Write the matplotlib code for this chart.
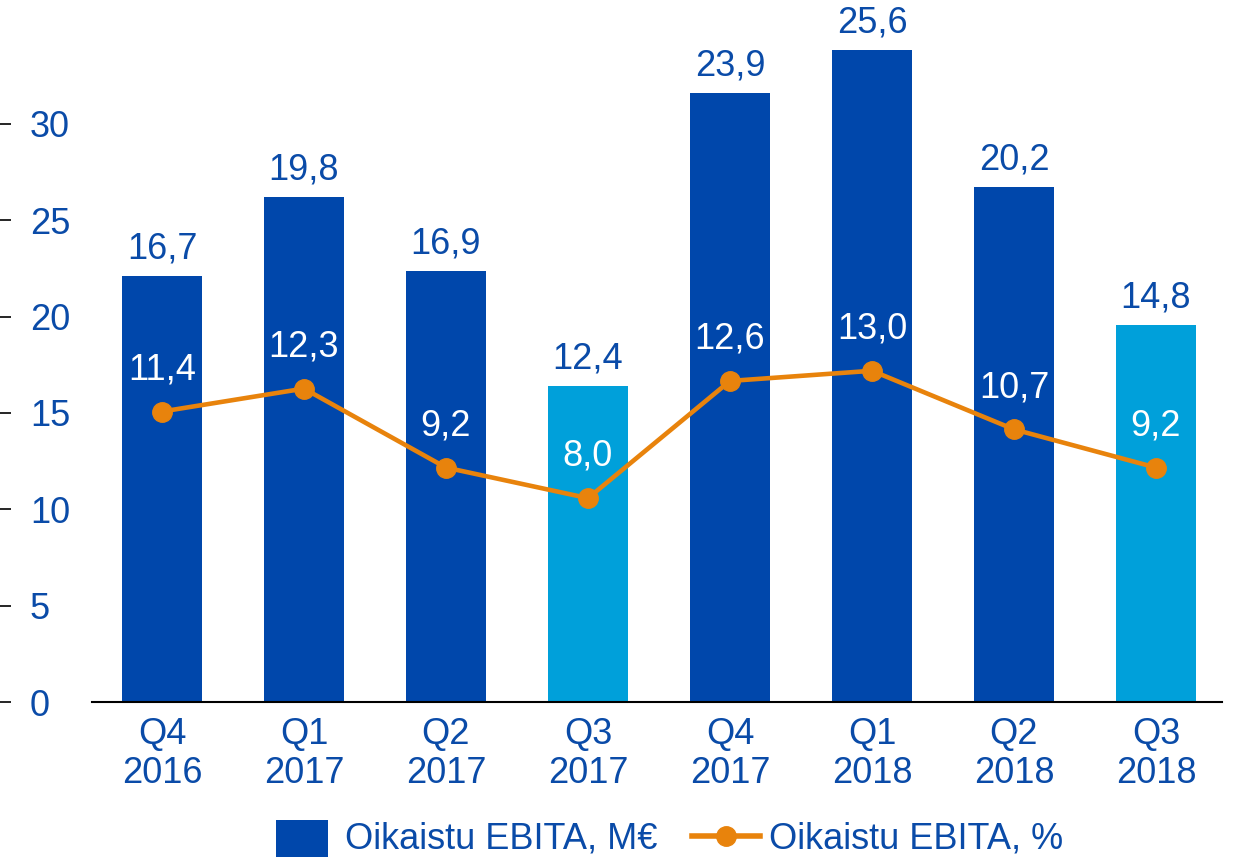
import numpy as np
from matplotlib import pyplot as plt
from matplotlib.lines import Line2D
from matplotlib.path import Path

plt.rcParams["font.family"] = ["Liberation Sans", "DejaVu Sans"]

# data
quarters = ["Q4", "Q1", "Q2", "Q3", "Q4", "Q1", "Q2", "Q3"]
years = ["2016", "2017", "2017", "2017", "2017", "2018", "2018", "2018"]
ebita_meur = [16.7, 19.8, 16.9, 12.4, 23.9, 25.6, 20.2, 14.8]
ebita_pct = [11.4, 12.3, 9.2, 8.0, 12.6, 13.0, 10.7, 9.2]
left_ticks = [0, 5, 10, 15, 20, 25, 30]

dark_blue = "#0047AB"
light_blue = "#00A0DA"
orange = "#E8830C"
text_blue = "#0A4BA8"
fs = 26

W, H = 1233, 857
fig = plt.figure(figsize=(W / 100, H / 100), dpi=100)
bottom = (H - 702) / H
ax = fig.add_axes([92 / W, bottom, 1130 / W, 1 - bottom])

x = np.arange(len(quarters))
colors = [light_blue if q == "Q3" else dark_blue for q in quarters]
ax.bar(x, ebita_meur, width=0.56, color=colors, zorder=2)
ax.plot(x, ebita_pct, color=orange, lw=3.3, marker="o", ms=14, zorder=3)

for xi, v in zip(x, ebita_meur):
    ax.annotate(f"{v:.1f}".replace(".", ","), (xi, v), xytext=(0, 19.5),
                textcoords="offset points", ha="center", va="center",
                fontsize=fs, color=text_blue)
for xi, v in zip(x, ebita_pct):
    ax.annotate(f"{v:.1f}".replace(".", ","), (xi, v), xytext=(0, 30),
                textcoords="offset points", ha="center", va="center",
                fontsize=fs, color="white", zorder=4)

ax.set_xlim(-0.493, 7.465)
ax.set_ylim(0, 702 / 25.48)
ax.set_xticks(x)
ax.set_xticklabels([f"{q}\n{y}" for q, y in zip(quarters, years)],
                   fontsize=fs, color=text_blue, linespacing=1.12)
ax.tick_params(axis="x", length=0, pad=11)
ax.set_yticks([])
for s in ["top", "right", "left"]:
    ax.spines[s].set_visible(False)
ax.spines["bottom"].set_linewidth(1.5)
ax.patch.set_visible(False)

# left value axis (ticks at the figure edge, labels to their right)
lax = fig.add_axes([0, bottom, 0.02, 1 - bottom])
lax.set_ylim(0, 702 / 19.27)
lax.set_yticks(left_ticks)
lax.set_yticklabels([str(t) for t in left_ticks], fontsize=fs, color=text_blue)
lax.tick_params(axis="y", direction="in", length=8, width=1.2, pad=-21.5)
for lbl in lax.get_yticklabels():
    lbl.set_ha("left")
lax.set_xticks([])
for s in lax.spines.values():
    s.set_visible(False)
lax.patch.set_visible(False)

# legend block marker: wide box sitting a bit low, cut by the figure edge
box = Path([(-1, -1), (1, -1), (1, 0.6), (-1, 0.6), (-1, -1)],
           [Path.MOVETO, Path.LINETO, Path.LINETO, Path.LINETO, Path.CLOSEPOLY])
handles = [
    Line2D([], [], ls="none", marker=box, ms=38, color=dark_blue, mew=0),
    Line2D([], [], color=orange, lw=4, marker="o", ms=14),
]
fig.legend(handles, ["Oikaistu EBITA, M€", "Oikaistu EBITA, %"],
           loc="lower center", bbox_to_anchor=(0.54, -0.016), ncol=2,
           frameon=False, fontsize=fs, labelcolor=text_blue, borderaxespad=0,
           handlelength=1.88, handletextpad=0.25, columnspacing=0.95)

fig.savefig("out.png", dpi=100)
